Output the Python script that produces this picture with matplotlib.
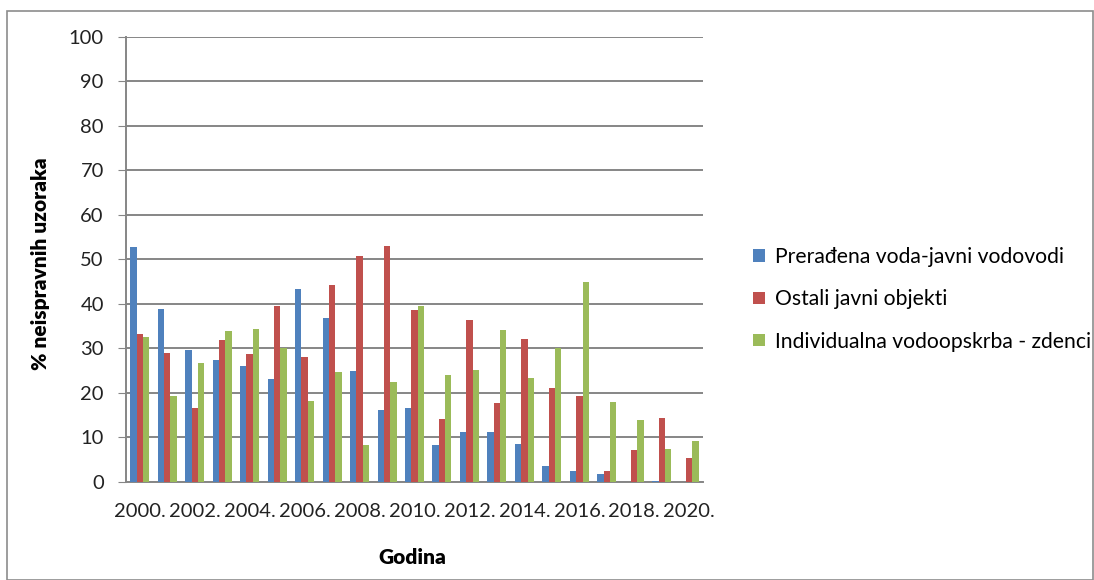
import matplotlib.pyplot as plt
import numpy as np
from matplotlib.patches import Rectangle

years = list(range(2000, 2021))
preradena = [52.7, 38.9, 29.6, 27.3, 26.1, 23.1, 43.3, 36.9, 24.9, 16.2, 16.5,
             8.3, 11.2, 11.2, 8.5, 3.5, 2.5, 1.8, 0.0, 0.3, 0.0]
ostali = [33.2, 29.0, 16.7, 31.9, 28.8, 39.6, 28.0, 44.3, 50.7, 52.9, 38.7,
          14.2, 36.4, 17.7, 32.0, 21.1, 19.4, 2.5, 7.1, 14.3, 5.3]
individualna = [32.6, 19.4, 26.6, 34.0, 34.4, 30.0, 18.2, 24.6, 8.2, 22.4, 39.4,
                24.1, 25.1, 34.2, 23.4, 30.0, 45.0, 18.0, 14.0, 7.3, 9.3]
labels = ['Prerađena voda-javni vodovodi', 'Ostali javni objekti',
          'Individualna vodoopskrba - zdenci']
colors = ['#4F81BD', '#C0504D', '#9BBB59']

plt.rcParams['font.family'] = ['Lato', 'DejaVu Sans']

W, H = 1094, 580
left, right, top, bottom = 126, 703, 36.5, 482
fig = plt.figure(figsize=(W / 100, H / 100), dpi=100)
ax = fig.add_axes([left / W, 1 - bottom / H, (right - left) / W, (bottom - top) / H])

# chart border
fig.patches.append(Rectangle((7 / W, 0), 1 - 7 / W - 1.5 / W, 1 - 11 / H,
                             transform=fig.transFigure, fill=False,
                             edgecolor='#8c8c8c', linewidth=1.2))

x = np.arange(len(years))
bw = 0.23
for i, (vals, lab, c) in enumerate(zip([preradena, ostali, individualna], labels, colors)):
    ax.bar(x + (i - 1) * bw, vals, width=bw, color=c, label=lab, zorder=3)

ax.set_xlim(-0.5, len(years) - 0.5)
ax.set_ylim(0, 100)
ax.set_yticks(range(0, 101, 10))
ax.set_xticks(x[::2])
ax.set_xticklabels([f'{y}.' for y in years[::2]])
ax.tick_params(axis='x', length=0, labelsize=14.5, pad=15, labelcolor='#222222')
ax.tick_params(axis='y', length=6, color='#868686', labelsize=14.5, pad=10,
               labelcolor='#222222')
ax.grid(axis='y', color='#868686', linewidth=1.4, zorder=0)
for s in ['top', 'right']:
    ax.spines[s].set_visible(False)
for s in ['left', 'bottom']:
    ax.spines[s].set_color('#868686')
    ax.spines[s].set_linewidth(1.4)

ax.set_ylabel('% neispravnih uzoraka', fontsize=15, fontweight='heavy')
ax.yaxis.set_label_coords(-(left - 50) / (right - left), 0.49)
ax.set_xlabel('Godina', fontsize=15, fontweight='heavy')
ax.xaxis.set_label_coords(0.497, -(548 - bottom) / (bottom - top))

ax.legend(loc='center left', bbox_to_anchor=((745 - left) / (right - left), 0.41),
          frameon=False, fontsize=15.2, handlelength=0.55, handleheight=0.55,
          labelspacing=1.05, handletextpad=0.45, borderaxespad=0)

fig.savefig('out.png', dpi=100)
